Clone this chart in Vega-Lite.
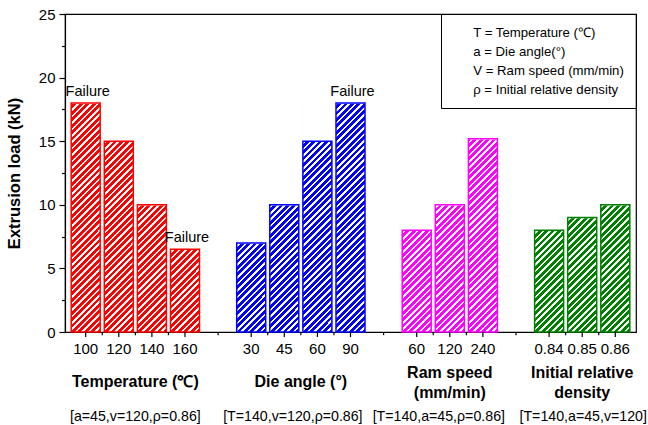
{
  "$schema": "https://vega.github.io/schema/vega-lite/v6.json",
  "autosize": "none",
  "padding": {"left": 65, "top": 14, "right": 12, "bottom": 93},
  "width": 571,
  "height": 318,
  "background": "white",
  "config": {
    "font": "Liberation Sans",
    "view": {"stroke": "black", "strokeWidth": 1.2},
    "axis": {"domainColor": "black", "tickColor": "black", "labelColor": "black", "titleColor": "black", "grid": false, "domainWidth": 1.2, "tickWidth": 1.2, "labelFont": "Liberation Sans", "titleFont": "Liberation Sans"},
    "legend": {"labelFont": "Liberation Sans"},
    "text": {"font": "Liberation Sans", "color": "black"}
  },
  "data": {
    "values": [
      {"group": "Temperature (℃)", "key": "T100", "setting": "100", "load": 18, "status": "Failure", "cond": "[a=45,v=120,ρ=0.86]"},
      {"group": "Temperature (℃)", "key": "T120", "setting": "120", "load": 15, "status": "", "cond": "[a=45,v=120,ρ=0.86]"},
      {"group": "Temperature (℃)", "key": "T140", "setting": "140", "load": 10, "status": "", "cond": "[a=45,v=120,ρ=0.86]"},
      {"group": "Temperature (℃)", "key": "T160", "setting": "160", "load": 6.5, "status": "Failure", "cond": "[a=45,v=120,ρ=0.86]"},
      {"group": "Die angle (°)", "key": "D30", "setting": "30", "load": 7, "status": "", "cond": "[T=140,v=120,ρ=0.86]"},
      {"group": "Die angle (°)", "key": "D45", "setting": "45", "load": 10, "status": "", "cond": "[T=140,v=120,ρ=0.86]"},
      {"group": "Die angle (°)", "key": "D60", "setting": "60", "load": 15, "status": "", "cond": "[T=140,v=120,ρ=0.86]"},
      {"group": "Die angle (°)", "key": "D90", "setting": "90", "load": 18, "status": "Failure", "cond": "[T=140,v=120,ρ=0.86]"},
      {"group": "Ram speed\n(mm/min)", "key": "R60", "setting": "60", "load": 8, "status": "", "cond": "[T=140,a=45,ρ=0.86]"},
      {"group": "Ram speed\n(mm/min)", "key": "R120", "setting": "120", "load": 10, "status": "", "cond": "[T=140,a=45,ρ=0.86]"},
      {"group": "Ram speed\n(mm/min)", "key": "R240", "setting": "240", "load": 15.2, "status": "", "cond": "[T=140,a=45,ρ=0.86]"},
      {"group": "Initial relative\ndensity", "key": "P0.84", "setting": "0.84", "load": 8, "status": "", "cond": "[T=140,a=45,v=120]"},
      {"group": "Initial relative\ndensity", "key": "P0.85", "setting": "0.85", "load": 9, "status": "", "cond": "[T=140,a=45,v=120]"},
      {"group": "Initial relative\ndensity", "key": "P0.86", "setting": "0.86", "load": 10, "status": "", "cond": "[T=140,a=45,v=120]"}
    ]
  },
  "resolve": {"axis": {"x": "independent", "y": "independent"}},
  "layer": [
    {
      "mark": {"type": "bar"},
      "encoding": {
        "x": {
          "field": "key", "type": "nominal",
          "scale": {"domain": ["T100", "T120", "T140", "T160", "g1", "D30", "D45", "D60", "D90", "g2", "R60", "R120", "R240", "g3", "P0.84", "P0.85", "P0.86"], "paddingInner": 0.124, "paddingOuter": 0.187},
          "axis": null
        },
        "y": {"datum": 0, "type": "quantitative", "scale": {"domain": [0, 25], "nice": false}, "axis": null},
        "y2": {"datum": 18},
        "color": {"field": "group", "type": "nominal", "scale": {"domain": ["Temperature (℃)", "Die angle (°)", "Ram speed\n(mm/min)", "Initial relative\ndensity"], "range": ["#ff0000", "#0000ff", "#ff00ff", "#008000"]}, "legend": null}
      }
    },
    {
      "mark": {
        "type": "bar",
        "fill": {
          "gradient": "linear", "x1": 0, "y1": 0, "x2": 0.1405, "y2": 1.1089,
          "stops": [
            {"offset": 0, "color": "#fff"}, {"offset": 0.01, "color": "#fff"}, {"offset": 0.01, "color": "rgba(255,255,255,0)"}, {"offset": 0.025, "color": "rgba(255,255,255,0)"},
            {"offset": 0.025, "color": "#fff"}, {"offset": 0.035, "color": "#fff"}, {"offset": 0.035, "color": "rgba(255,255,255,0)"}, {"offset": 0.05, "color": "rgba(255,255,255,0)"},
            {"offset": 0.05, "color": "#fff"}, {"offset": 0.06, "color": "#fff"}, {"offset": 0.06, "color": "rgba(255,255,255,0)"}, {"offset": 0.075, "color": "rgba(255,255,255,0)"},
            {"offset": 0.075, "color": "#fff"}, {"offset": 0.085, "color": "#fff"}, {"offset": 0.085, "color": "rgba(255,255,255,0)"}, {"offset": 0.1, "color": "rgba(255,255,255,0)"},
            {"offset": 0.1, "color": "#fff"}, {"offset": 0.11, "color": "#fff"}, {"offset": 0.11, "color": "rgba(255,255,255,0)"}, {"offset": 0.125, "color": "rgba(255,255,255,0)"},
            {"offset": 0.125, "color": "#fff"}, {"offset": 0.135, "color": "#fff"}, {"offset": 0.135, "color": "rgba(255,255,255,0)"}, {"offset": 0.15, "color": "rgba(255,255,255,0)"},
            {"offset": 0.15, "color": "#fff"}, {"offset": 0.16, "color": "#fff"}, {"offset": 0.16, "color": "rgba(255,255,255,0)"}, {"offset": 0.175, "color": "rgba(255,255,255,0)"},
            {"offset": 0.175, "color": "#fff"}, {"offset": 0.185, "color": "#fff"}, {"offset": 0.185, "color": "rgba(255,255,255,0)"}, {"offset": 0.2, "color": "rgba(255,255,255,0)"},
            {"offset": 0.2, "color": "#fff"}, {"offset": 0.21, "color": "#fff"}, {"offset": 0.21, "color": "rgba(255,255,255,0)"}, {"offset": 0.225, "color": "rgba(255,255,255,0)"},
            {"offset": 0.225, "color": "#fff"}, {"offset": 0.235, "color": "#fff"}, {"offset": 0.235, "color": "rgba(255,255,255,0)"}, {"offset": 0.25, "color": "rgba(255,255,255,0)"},
            {"offset": 0.25, "color": "#fff"}, {"offset": 0.26, "color": "#fff"}, {"offset": 0.26, "color": "rgba(255,255,255,0)"}, {"offset": 0.275, "color": "rgba(255,255,255,0)"},
            {"offset": 0.275, "color": "#fff"}, {"offset": 0.285, "color": "#fff"}, {"offset": 0.285, "color": "rgba(255,255,255,0)"}, {"offset": 0.3, "color": "rgba(255,255,255,0)"},
            {"offset": 0.3, "color": "#fff"}, {"offset": 0.31, "color": "#fff"}, {"offset": 0.31, "color": "rgba(255,255,255,0)"}, {"offset": 0.325, "color": "rgba(255,255,255,0)"},
            {"offset": 0.325, "color": "#fff"}, {"offset": 0.335, "color": "#fff"}, {"offset": 0.335, "color": "rgba(255,255,255,0)"}, {"offset": 0.35, "color": "rgba(255,255,255,0)"},
            {"offset": 0.35, "color": "#fff"}, {"offset": 0.36, "color": "#fff"}, {"offset": 0.36, "color": "rgba(255,255,255,0)"}, {"offset": 0.375, "color": "rgba(255,255,255,0)"},
            {"offset": 0.375, "color": "#fff"}, {"offset": 0.385, "color": "#fff"}, {"offset": 0.385, "color": "rgba(255,255,255,0)"}, {"offset": 0.4, "color": "rgba(255,255,255,0)"},
            {"offset": 0.4, "color": "#fff"}, {"offset": 0.41, "color": "#fff"}, {"offset": 0.41, "color": "rgba(255,255,255,0)"}, {"offset": 0.425, "color": "rgba(255,255,255,0)"},
            {"offset": 0.425, "color": "#fff"}, {"offset": 0.435, "color": "#fff"}, {"offset": 0.435, "color": "rgba(255,255,255,0)"}, {"offset": 0.45, "color": "rgba(255,255,255,0)"},
            {"offset": 0.45, "color": "#fff"}, {"offset": 0.46, "color": "#fff"}, {"offset": 0.46, "color": "rgba(255,255,255,0)"}, {"offset": 0.475, "color": "rgba(255,255,255,0)"},
            {"offset": 0.475, "color": "#fff"}, {"offset": 0.485, "color": "#fff"}, {"offset": 0.485, "color": "rgba(255,255,255,0)"}, {"offset": 0.5, "color": "rgba(255,255,255,0)"},
            {"offset": 0.5, "color": "#fff"}, {"offset": 0.51, "color": "#fff"}, {"offset": 0.51, "color": "rgba(255,255,255,0)"}, {"offset": 0.525, "color": "rgba(255,255,255,0)"},
            {"offset": 0.525, "color": "#fff"}, {"offset": 0.535, "color": "#fff"}, {"offset": 0.535, "color": "rgba(255,255,255,0)"}, {"offset": 0.55, "color": "rgba(255,255,255,0)"},
            {"offset": 0.55, "color": "#fff"}, {"offset": 0.56, "color": "#fff"}, {"offset": 0.56, "color": "rgba(255,255,255,0)"}, {"offset": 0.575, "color": "rgba(255,255,255,0)"},
            {"offset": 0.575, "color": "#fff"}, {"offset": 0.585, "color": "#fff"}, {"offset": 0.585, "color": "rgba(255,255,255,0)"}, {"offset": 0.6, "color": "rgba(255,255,255,0)"},
            {"offset": 0.6, "color": "#fff"}, {"offset": 0.61, "color": "#fff"}, {"offset": 0.61, "color": "rgba(255,255,255,0)"}, {"offset": 0.625, "color": "rgba(255,255,255,0)"},
            {"offset": 0.625, "color": "#fff"}, {"offset": 0.635, "color": "#fff"}, {"offset": 0.635, "color": "rgba(255,255,255,0)"}, {"offset": 0.65, "color": "rgba(255,255,255,0)"},
            {"offset": 0.65, "color": "#fff"}, {"offset": 0.66, "color": "#fff"}, {"offset": 0.66, "color": "rgba(255,255,255,0)"}, {"offset": 0.675, "color": "rgba(255,255,255,0)"},
            {"offset": 0.675, "color": "#fff"}, {"offset": 0.685, "color": "#fff"}, {"offset": 0.685, "color": "rgba(255,255,255,0)"}, {"offset": 0.7, "color": "rgba(255,255,255,0)"},
            {"offset": 0.7, "color": "#fff"}, {"offset": 0.71, "color": "#fff"}, {"offset": 0.71, "color": "rgba(255,255,255,0)"}, {"offset": 0.725, "color": "rgba(255,255,255,0)"},
            {"offset": 0.725, "color": "#fff"}, {"offset": 0.735, "color": "#fff"}, {"offset": 0.735, "color": "rgba(255,255,255,0)"}, {"offset": 0.75, "color": "rgba(255,255,255,0)"},
            {"offset": 0.75, "color": "#fff"}, {"offset": 0.76, "color": "#fff"}, {"offset": 0.76, "color": "rgba(255,255,255,0)"}, {"offset": 0.775, "color": "rgba(255,255,255,0)"},
            {"offset": 0.775, "color": "#fff"}, {"offset": 0.785, "color": "#fff"}, {"offset": 0.785, "color": "rgba(255,255,255,0)"}, {"offset": 0.8, "color": "rgba(255,255,255,0)"},
            {"offset": 0.8, "color": "#fff"}, {"offset": 0.81, "color": "#fff"}, {"offset": 0.81, "color": "rgba(255,255,255,0)"}, {"offset": 0.825, "color": "rgba(255,255,255,0)"},
            {"offset": 0.825, "color": "#fff"}, {"offset": 0.835, "color": "#fff"}, {"offset": 0.835, "color": "rgba(255,255,255,0)"}, {"offset": 0.85, "color": "rgba(255,255,255,0)"},
            {"offset": 0.85, "color": "#fff"}, {"offset": 0.86, "color": "#fff"}, {"offset": 0.86, "color": "rgba(255,255,255,0)"}, {"offset": 0.875, "color": "rgba(255,255,255,0)"},
            {"offset": 0.875, "color": "#fff"}, {"offset": 0.885, "color": "#fff"}, {"offset": 0.885, "color": "rgba(255,255,255,0)"}, {"offset": 0.9, "color": "rgba(255,255,255,0)"},
            {"offset": 0.9, "color": "#fff"}, {"offset": 0.91, "color": "#fff"}, {"offset": 0.91, "color": "rgba(255,255,255,0)"}, {"offset": 0.925, "color": "rgba(255,255,255,0)"},
            {"offset": 0.925, "color": "#fff"}, {"offset": 0.935, "color": "#fff"}, {"offset": 0.935, "color": "rgba(255,255,255,0)"}, {"offset": 0.95, "color": "rgba(255,255,255,0)"},
            {"offset": 0.95, "color": "#fff"}, {"offset": 0.96, "color": "#fff"}, {"offset": 0.96, "color": "rgba(255,255,255,0)"}, {"offset": 0.975, "color": "rgba(255,255,255,0)"},
            {"offset": 0.975, "color": "#fff"}, {"offset": 0.985, "color": "#fff"}, {"offset": 0.985, "color": "rgba(255,255,255,0)"}, {"offset": 1, "color": "rgba(255,255,255,0)"}
          ]
        }
      },
      "encoding": {
        "x": {"field": "key", "type": "nominal", "axis": null},
        "y": {"datum": 0, "type": "quantitative", "axis": null},
        "y2": {"datum": 18}
      }
    },
    {
      "mark": {"type": "bar", "fill": "white", "stroke": "white", "strokeWidth": 1.5},
      "encoding": {
        "x": {"field": "key", "type": "nominal", "axis": null},
        "y": {"field": "load", "type": "quantitative", "axis": {"orient": "left", "title": " ", "titleFontSize": 4, "labelExpr": "''", "domain": false, "tickSize": 3.5, "values": [2.5, 7.5, 12.5, 17.5, 22.5]}},
        "y2": {"datum": 18.4}
      }
    },
    {
      "mark": {"type": "bar", "filled": false, "strokeWidth": 1.5},
      "encoding": {
        "x": {"field": "key", "type": "nominal", "axis": null},
        "y": {"field": "load", "type": "quantitative", "axis": {"orient": "left", "values": [0, 5, 10, 15, 20, 25], "tickSize": 6, "labelFontSize": 15, "labelPadding": 4, "title": "Extrusion load (kN)", "titleFontSize": 16.5, "titleFontWeight": "bold", "titlePadding": 16}},
        "y2": {"datum": 0},
        "color": {"field": "group", "type": "nominal", "legend": null}
      }
    },
    {
      "mark": {"type": "rule", "color": "black", "strokeWidth": 1.2},
      "encoding": {
        "x": {"field": "key", "type": "nominal", "bandPosition": 0.5, "axis": null},
        "y": {"datum": 0, "type": "quantitative", "axis": null},
        "y2": {"datum": -0.4}
      }
    },
    {
      "transform": [{"filter": {"field": "key", "oneOf": ["T100", "T120", "T140", "D30", "D45", "D60", "R60", "R120", "P0.84", "P0.85"]}}],
      "mark": {"type": "rule", "color": "black", "strokeWidth": 1.2},
      "encoding": {
        "x": {"field": "key", "type": "nominal", "bandPosition": 1.0708, "axis": null},
        "y": {"datum": 0, "type": "quantitative", "axis": null},
        "y2": {"datum": -0.25}
      }
    },
    {
      "transform": [{"filter": {"field": "key", "oneOf": ["T160", "D90", "R240"]}}],
      "mark": {"type": "rule", "color": "black", "strokeWidth": 1.2},
      "encoding": {
        "x": {"field": "key", "type": "nominal", "bandPosition": 1.6415, "axis": null},
        "y": {"datum": 0, "type": "quantitative", "axis": null},
        "y2": {"datum": -0.25}
      }
    },
    {
      "transform": [{"filter": "datum.status === 'Failure'"}],
      "mark": {"type": "text", "font": "Liberation Sans", "fontSize": 14.5, "dy": -11, "dx": 2, "baseline": "middle", "color": "black"},
      "encoding": {
        "x": {"field": "key", "type": "nominal", "axis": null},
        "y": {"field": "load", "type": "quantitative", "axis": null},
        "text": {"field": "status"}
      }
    },
    {
      "mark": {"type": "text", "font": "Liberation Sans", "fontSize": 15, "dy": 17, "baseline": "middle", "color": "black"},
      "encoding": {
        "x": {"field": "key", "type": "nominal", "axis": null},
        "y": {"datum": 0, "type": "quantitative", "axis": null},
        "text": {"field": "setting"}
      }
    },
    {
      "transform": [{"filter": {"field": "key", "oneOf": ["T120", "D45"]}}],
      "mark": {"type": "text", "font": "Liberation Sans", "fontSize": 16, "fontWeight": "bold", "dy": 50, "baseline": "middle", "color": "black"},
      "encoding": {
        "x": {"field": "key", "type": "nominal", "bandPosition": 1.0708, "axis": null},
        "y": {"datum": 0, "type": "quantitative", "axis": null},
        "text": {"field": "group"}
      }
    },
    {
      "transform": [{"filter": {"field": "key", "oneOf": ["R120", "P0.85"]}}],
      "mark": {"type": "text", "font": "Liberation Sans", "fontSize": 16, "fontWeight": "bold", "dy": 41, "baseline": "middle", "lineBreak": "\n", "lineHeight": 20, "color": "black"},
      "encoding": {
        "x": {"field": "key", "type": "nominal", "bandPosition": 0.5, "axis": null},
        "y": {"datum": 0, "type": "quantitative", "axis": null},
        "text": {"field": "group"}
      }
    },
    {
      "transform": [{"filter": {"field": "key", "oneOf": ["T120"]}}],
      "mark": {"type": "text", "font": "Liberation Sans", "fontSize": 14.2, "dy": 85, "baseline": "middle", "color": "black"},
      "encoding": {
        "x": {"field": "key", "type": "nominal", "bandPosition": 1.0708, "axis": null},
        "y": {"datum": 0, "type": "quantitative", "axis": null},
        "text": {"field": "cond"}
      }
    },
    {
      "transform": [{"filter": {"field": "key", "oneOf": ["D45"]}}],
      "mark": {"type": "text", "font": "Liberation Sans", "fontSize": 14.2, "dy": 85, "dx": -8, "baseline": "middle", "color": "black"},
      "encoding": {
        "x": {"field": "key", "type": "nominal", "bandPosition": 1.0708, "axis": null},
        "y": {"datum": 0, "type": "quantitative", "axis": null},
        "text": {"field": "cond"}
      }
    },
    {
      "transform": [{"filter": {"field": "key", "oneOf": ["R120"]}}],
      "mark": {"type": "text", "font": "Liberation Sans", "fontSize": 14.2, "dy": 85, "dx": -11, "baseline": "middle", "color": "black"},
      "encoding": {
        "x": {"field": "key", "type": "nominal", "bandPosition": 0.5, "axis": null},
        "y": {"datum": 0, "type": "quantitative", "axis": null},
        "text": {"field": "cond"}
      }
    },
    {
      "transform": [{"filter": {"field": "key", "oneOf": ["P0.85"]}}],
      "mark": {"type": "text", "font": "Liberation Sans", "fontSize": 14.2, "dy": 85, "dx": 1, "baseline": "middle", "color": "black"},
      "encoding": {
        "x": {"field": "key", "type": "nominal", "bandPosition": 0.5, "axis": null},
        "y": {"datum": 0, "type": "quantitative", "axis": null},
        "text": {"field": "cond"}
      }
    },
    {
      "data": {"values": [
        {"line": "T = Temperature (℃)"},
        {"line": "a = Die angle(°)"},
        {"line": "V = Ram speed (mm/min)"},
        {"line": "ρ = Initial relative density"}
      ]},
      "mark": {"type": "point", "opacity": 0},
      "encoding": {
        "shape": {
          "field": "line", "type": "nominal", "sort": null,
          "legend": {"title": null, "orient": "top-right", "offset": 0, "strokeColor": "black", "padding": 12, "symbolSize": 0, "symbolOpacity": 0, "symbolStrokeWidth": 0, "labelFont": "Liberation Sans", "labelFontSize": 13.2, "labelLimit": 400, "rowPadding": 5, "labelOffset": 7, "labelColor": "black"}
        }
      }
    }
  ]
}
